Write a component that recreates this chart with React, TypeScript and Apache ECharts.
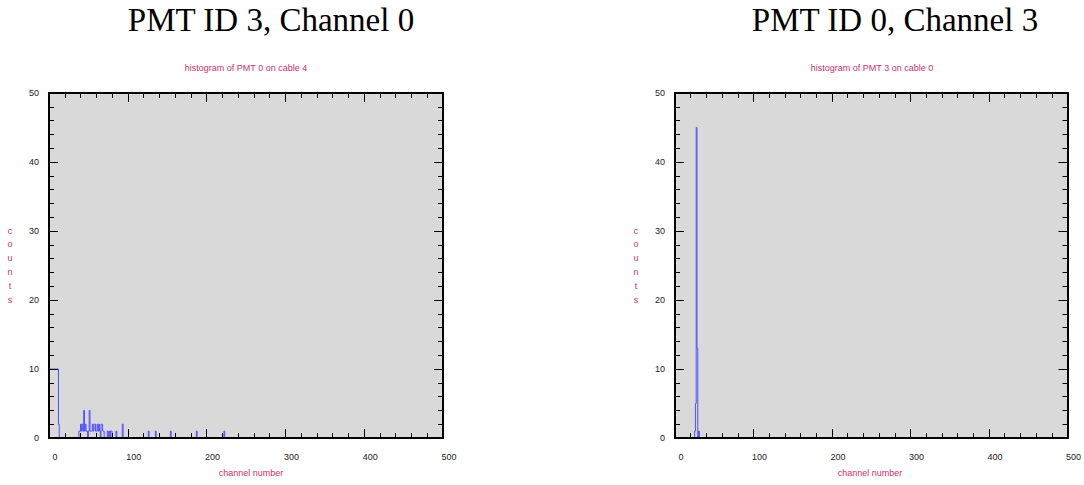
import React, { useEffect, useRef } from "react";
import * as echarts from "echarts";

// Left histogram (PMT 0 on cable 4): non-empty channels and their counts
const leftChannels = [0, 1, 2, 3, 4, 5, 6, 7, 8, 9, 10, 11, 12, 38, 39, 40, 41, 42, 43, 44, 45, 46, 47, 48, 50, 51, 52, 53, 54, 55, 56, 57, 58, 59, 60, 61, 62, 63, 64, 66, 67, 68, 69, 74, 76, 78, 79, 85, 93, 126, 135, 154, 187, 222];
const leftCounts = [10, 10, 10, 10, 10, 10, 10, 10, 10, 10, 10, 10, 2, 1, 1, 2, 1, 2, 1, 4, 1, 2, 1, 1, 1, 4, 1, 1, 1, 2, 1, 2, 2, 1, 1, 2, 1, 2, 1, 2, 2, 1, 1, 1, 1, 1, 1, 1, 2, 1, 1, 1, 1, 1];

// Right histogram (PMT 3 on cable 0)
const rightChannels = [25, 26, 27, 28, 30];
const rightCounts = [1, 5, 45, 13, 1];

const titles = ["PMT ID 3, Channel 0", "PMT ID 0, Channel 3"];
const subtitles = ["histogram of PMT 0 on cable 4", "histogram of PMT 3 on cable 0"];
const xName = "channel number";
const yName = "counts";
const X_MIN = 0, X_MAX = 500, X_INT = 100;
const Y_MIN = 0, Y_MAX = 50, Y_INT = 10;

function dense(ch: number[], cnt: number[]): [number, number][] {
  const arr: number[] = new Array(X_MAX + 1).fill(0);
  ch.forEach((c, i) => { arr[c] = cnt[i]; });
  return arr.map((v, i) => [i, v] as [number, number]);
}

const PINK = "#c8326e";
const BLUE = "#5050ff";
const FONT = "'Liberation Sans', Arial, sans-serif";

export default function App() {
  const ref = useRef<HTMLDivElement>(null);
  useEffect(() => {
    if (!ref.current) return;
    const chart = echarts.init(ref.current, undefined, { renderer: "svg" });
    const grids = [
      { left: 49, top: 93, width: 394, height: 345 },
      { left: 675, top: 93, width: 394, height: 345 },
    ];
    const axisLine = { show: true, onZero: false, lineStyle: { color: "#000", width: 2 } };
    const tick = { show: true, inside: true, length: 9, lineStyle: { color: "#000", width: 1 } };
    const minor = { show: true, splitNumber: 5, length: 5, lineStyle: { color: "#000", width: 1 } };
    const xAxes: any[] = [];
    const yAxes: any[] = [];
    grids.forEach((_, gi) => {
      xAxes.push({
        type: "value", gridIndex: gi, position: "bottom", min: X_MIN, max: X_MAX, interval: X_INT, z: 5,
        axisLine, axisTick: tick, minorTick: minor, splitLine: { show: false },
        axisLabel: { fontSize: 9, color: "#222", fontFamily: FONT, margin: 14, padding: [0, 0, 0, 12] },
      });
      xAxes.push({
        type: "value", gridIndex: gi, position: "top", min: X_MIN, max: X_MAX, interval: X_INT, z: 5,
        axisLine, axisTick: tick, minorTick: minor, splitLine: { show: false },
        axisLabel: { show: false },
      });
      yAxes.push({
        type: "value", gridIndex: gi, position: "left", min: Y_MIN, max: Y_MAX, interval: Y_INT, z: 5,
        axisLine, axisTick: tick, minorTick: minor, splitLine: { show: false },
        axisLabel: { fontSize: 9, color: "#222", fontFamily: FONT, margin: 10 },
      });
      yAxes.push({
        type: "value", gridIndex: gi, position: "right", min: Y_MIN, max: Y_MAX, interval: Y_INT, z: 5,
        axisLine, axisTick: tick, minorTick: minor, splitLine: { show: false },
        axisLabel: { show: false },
      });
    });
    const centers = [246, 872];
    const graphic: any[] = [];
    [0, 1].forEach((i) => {
      graphic.push({
        type: "text", x: i === 0 ? 271 : 895, y: 20,
        style: { text: titles[i], font: "33px 'Liberation Serif', serif", fill: "#000", textAlign: "center", textVerticalAlign: "middle" },
      });
      graphic.push({
        type: "text", x: centers[i], y: 68,
        style: { text: subtitles[i], font: `9px ${FONT}`, fill: PINK, textAlign: "center", textVerticalAlign: "middle" },
      });
      graphic.push({
        type: "text", x: i === 0 ? 251 : 870, y: 473,
        style: { text: xName, font: `9px ${FONT}`, fill: PINK, textAlign: "center", textVerticalAlign: "middle" },
      });
      graphic.push({
        type: "text", x: i === 0 ? 10 : 636, y: 265,
        style: { text: yName.split("").join("\n"), font: `9px ${FONT}`, fill: PINK, textAlign: "center", textVerticalAlign: "middle", lineHeight: 13.8 },
      });
    });
    const lineStyle = { color: BLUE, width: 1, join: "bevel" as const, cap: "butt" as const };
    chart.setOption({
      animation: false,
      backgroundColor: "#fff",
      grid: grids.map((g) => ({ ...g, show: true, backgroundColor: "#d9d9d9", borderWidth: 0 })),
      xAxis: xAxes,
      yAxis: yAxes,
      graphic,
      series: [
        {
          type: "line", xAxisIndex: 0, yAxisIndex: 0, step: "end", showSymbol: false, symbol: "none",
          lineStyle, data: dense(leftChannels, leftCounts), z: 2,
        },
        {
          type: "line", xAxisIndex: 2, yAxisIndex: 2, step: "end", showSymbol: false, symbol: "none",
          lineStyle, data: dense(rightChannels, rightCounts), z: 2,
        },
      ],
    });
    return () => chart.dispose();
  }, []);
  return <div ref={ref} style={{ position: "absolute", left: 0, top: 0, width: 1084, height: 485 }} />;
}
